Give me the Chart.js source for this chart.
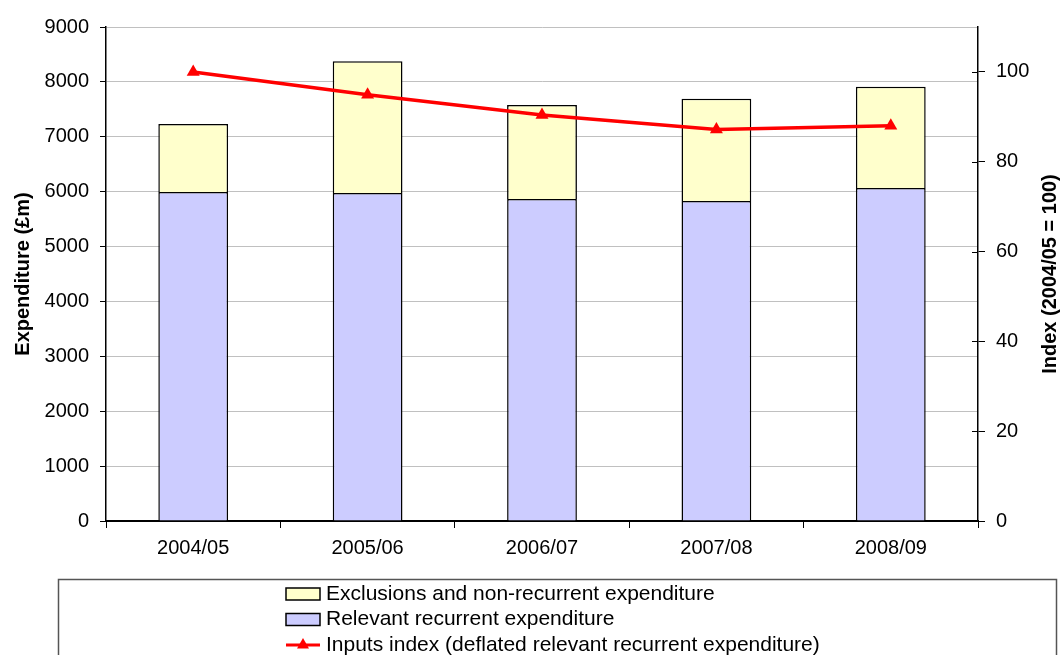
<!DOCTYPE html>
<html>
<head>
<meta charset="utf-8">
<script src="https://cdn.jsdelivr.net/npm/chart.js@4.4.1/dist/chart.umd.min.js"></script>
<style>
  html, body { margin: 0; padding: 0; background: #fff; }
  #wrap { width: 1060px; height: 655px; position: relative; }
</style>
</head>
<body>
<div id="wrap"><canvas id="chartSpend"></canvas></div>
<script>
// spending by year, £m
var years = ['2004/05', '2005/06', '2006/07', '2007/08', '2008/09'];
var relevantRecurrent = [5995, 5975, 5865, 5830, 6065];
var exclusions = [1240, 2400, 1715, 1865, 1845];
// inputs index, 2004/05 = 100
var inputsIndex = [100, 94.9, 90.4, 87.2, 88.0];

var leftTicks = [0, 1000, 2000, 3000, 4000, 5000, 6000, 7000, 8000, 9000];
var rightTicks = [0, 20, 40, 60, 80, 100];

var FONT = '"Liberation Sans", Arial, Helvetica, sans-serif';

var legendItems = [
    { text: 'Exclusions and non-recurrent expenditure', type: 'box', ds: 1 },
    { text: 'Relevant recurrent expenditure', type: 'box', ds: 0 },
    { text: 'Inputs index (deflated relevant recurrent expenditure)', type: 'line', ds: 2 }
];

// right axis title reads bottom-to-top, plus the small tick marks inside the plot
var extrasPlugin = {
    id: 'extras',
    afterDraw: function (chart) {
        var ctx = chart.ctx;
        var y1 = chart.scales.y1;
        ctx.save();
        ctx.strokeStyle = '#000';
        ctx.lineWidth = 1;
        y1.ticks.forEach(function (t) {
            var py = Math.round(y1.getPixelForValue(t.value)) + 0.5;
            ctx.beginPath();
            ctx.moveTo(y1.left - 6, py);
            ctx.lineTo(y1.left, py);
            ctx.stroke();
        });
        ctx.translate(1050, (chart.chartArea.top + chart.chartArea.bottom) / 2);
        ctx.rotate(-Math.PI / 2);
        ctx.font = 'bold 20px ' + FONT;
        ctx.fillStyle = '#000';
        ctx.textAlign = 'center';
        ctx.textBaseline = 'middle';
        ctx.fillText('Index (2004/05 = 100)', 0, 0);
        ctx.restore();

        // legend box under the chart
        ctx.save();
        ctx.strokeStyle = '#555';
        ctx.lineWidth = 1.5;
        ctx.strokeRect(58.5, 579.5, 998, 100);
        ctx.font = '21px ' + FONT;
        ctx.textBaseline = 'middle';
        ctx.textAlign = 'left';
        legendItems.forEach(function (item, i) {
            var ds = chart.data.datasets[item.ds];
            var cy = 594 + i * 25.5;
            if (item.type === 'box') {
                ctx.fillStyle = ds.backgroundColor;
                ctx.fillRect(286, cy - 6, 34, 12);
                ctx.strokeStyle = '#000';
                ctx.lineWidth = 1.5;
                ctx.strokeRect(286, cy - 6, 34, 12);
            } else {
                ctx.strokeStyle = ds.borderColor;
                ctx.lineWidth = 3;
                ctx.beginPath();
                ctx.moveTo(286, cy);
                ctx.lineTo(320, cy);
                ctx.stroke();
                ctx.fillStyle = ds.borderColor;
                ctx.beginPath();
                ctx.moveTo(303, cy - 7);
                ctx.lineTo(309, cy + 3.5);
                ctx.lineTo(297, cy + 3.5);
                ctx.closePath();
                ctx.fill();
            }
            ctx.fillStyle = '#000';
            ctx.fillText(item.text, 326, cy);
        });
        ctx.restore();
    }
};

function plainNumber(v) { return String(v); }

var ctx = document.getElementById('chartSpend').getContext('2d');
var chart = new Chart(ctx, {
    type: 'bar',
    data: {
        labels: years,
        datasets: [{
            label: 'Relevant recurrent expenditure',
            data: relevantRecurrent,
            backgroundColor: '#CCCCFF',
            borderColor: '#000',
            borderWidth: 1.5,
            barPercentage: 0.4,
            categoryPercentage: 1,
            yAxisID: 'y',
            order: 1
        }, {
            label: 'Exclusions and non-recurrent expenditure',
            data: exclusions,
            backgroundColor: '#FFFFCC',
            borderColor: '#000',
            borderWidth: 1.5,
            barPercentage: 0.4,
            categoryPercentage: 1,
            yAxisID: 'y',
            order: 1
        }, {
            type: 'line',
            label: 'Inputs index (deflated relevant recurrent expenditure)',
            data: inputsIndex,
            borderColor: '#FF0000',
            backgroundColor: '#FF0000',
            borderWidth: 3.5,
            pointStyle: 'triangle',
            pointRadius: 7.5,
            pointBorderWidth: 0,
            tension: 0,
            yAxisID: 'y1',
            order: 0
        }]
    },
    options: {
        responsive: true,
        maintainAspectRatio: false,
        animation: false,
        layout: { padding: { top: 27, bottom: 84, left: 0, right: 0 } },
        plugins: {
            legend: { display: false },
            tooltip: { enabled: false }
        },
        scales: {
            x: {
                stacked: true,
                offset: true,
                grid: { offset: true, drawOnChartArea: false, tickLength: 7, tickColor: '#000' },
                border: { color: '#000', width: 2 },
                ticks: { color: '#000', font: { family: FONT, size: 20 }, padding: 8, maxRotation: 0 },
                afterFit: function (s) { s.height = 50; }
            },
            y: {
                stacked: true,
                position: 'left',
                min: 0,
                max: 9000,
                afterBuildTicks: function (s) { s.ticks = leftTicks.map(function (v) { return { value: v }; }); },
                grid: { color: '#c0c0c0', lineWidth: 1, tickLength: 6, tickColor: '#000' },
                border: { color: '#000', width: 1.5 },
                ticks: { color: '#000', font: { family: FONT, size: 20 }, padding: 11, callback: plainNumber },
                title: {
                    display: true,
                    text: 'Expenditure (£m)',
                    color: '#000',
                    font: { family: FONT, size: 20, weight: 'bold' },
                    padding: { top: 11, bottom: 0 }
                },
                afterFit: function (s) { s.width = 106; }
            },
            y1: {
                position: 'right',
                min: 0,
                max: 110,
                afterBuildTicks: function (s) { s.ticks = rightTicks.map(function (v) { return { value: v }; }); },
                grid: { drawOnChartArea: false, tickLength: 7, tickColor: '#000' },
                border: { color: '#000', width: 1.5 },
                ticks: { color: '#000', font: { family: FONT, size: 20 }, padding: 11, callback: plainNumber },
                afterFit: function (s) { s.width = 82; }
            }
        }
    },
    plugins: [extrasPlugin]
});
</script>
</body>
</html>
